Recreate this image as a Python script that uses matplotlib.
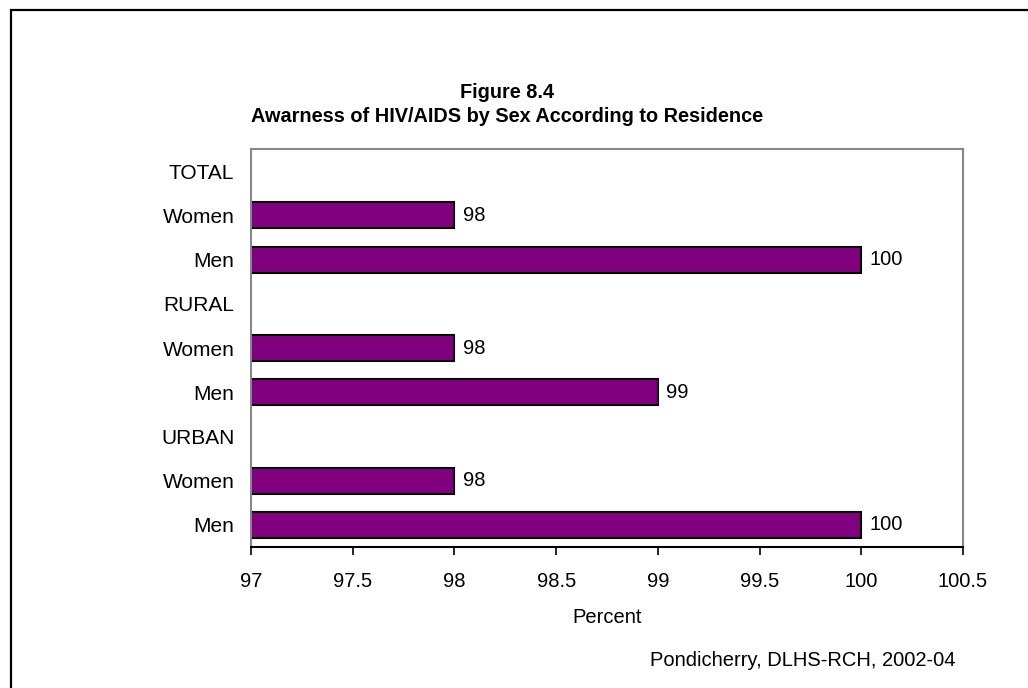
import numpy as np
import matplotlib
matplotlib.use('Agg')
import matplotlib.pyplot as plt
from matplotlib.patches import Rectangle

plt.rcParams['font.family'] = ['Liberation Sans', 'DejaVu Sans']

# rows from top to bottom; group headers carry no bar
labels = ['TOTAL', 'Women', 'Men', 'RURAL', 'Women', 'Men', 'URBAN', 'Women', 'Men']
values = [None, 98, 100, None, 98, 99, None, 98, 100]

FS = 14.5

fig = plt.figure(figsize=(10.28, 6.88), dpi=100)
W, H = 1028, 688

# outer frame running off the right and bottom edges
fig.patches.append(Rectangle((11 / W, -0.1), 1.2, 1 - 10 / H + 0.1,
                             transform=fig.transFigure, fill=False,
                             edgecolor='black', linewidth=1.6))

ax = fig.add_axes([251 / W, 1 - 547 / H, (963 - 251) / W, (547 - 149) / H])

y = np.arange(len(labels))[::-1]
for yi, v in zip(y, values):
    if v is None:
        continue
    ax.barh(yi, v - 97, left=97, height=0.59, color='#800080',
            edgecolor='black', linewidth=1.5)
    ax.text(v + 0.04, yi, f'{v:g}', va='center', ha='left', fontsize=FS)

ax.set_xlim(97, 100.5)
ax.set_ylim(-0.5, len(labels) - 0.5)
ax.set_xticks(np.arange(97, 100.51, 0.5))
ax.set_xticklabels(['97', '97.5', '98', '98.5', '99', '99.5', '100', '100.5'], fontsize=FS)
ax.set_yticks(y)
ax.set_yticklabels(labels, fontsize=15)
ax.tick_params(axis='y', length=0, pad=12)
ax.tick_params(axis='x', direction='out', length=6, width=1.2, pad=12)

for side in ['top', 'right', 'left']:
    ax.spines[side].set_color('#888888')
    ax.spines[side].set_linewidth(1.5)
ax.spines['bottom'].set_color('black')
ax.spines['bottom'].set_linewidth(1.5)

ax.set_xlabel('Percent', fontsize=FS, labelpad=12.5)

fig.text(507 / W, 1 - 93 / H, 'Figure 8.4', ha='center', va='center',
         fontsize=14.3, fontweight='bold')
fig.text(507 / W, 1 - 116 / H, 'Awarness of HIV/AIDS by Sex According to Residence',
         ha='center', va='center', fontsize=14.3, fontweight='bold')
fig.text(955 / W, 1 - 660 / H, 'Pondicherry, DLHS-RCH, 2002-04', ha='right',
         va='center', fontsize=FS)

fig.savefig('out.png', dpi=100)
